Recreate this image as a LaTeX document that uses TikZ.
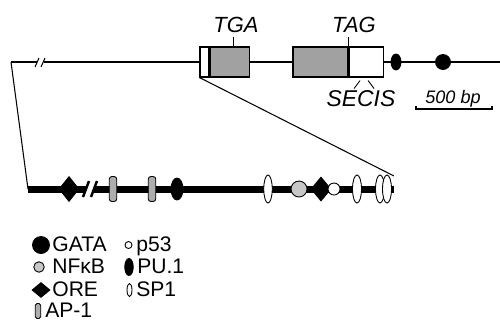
\documentclass[tikz,border=0pt]{standalone}
\usepackage{fontspec}
\setmainfont{Liberation Sans}
\usetikzlibrary{shapes.geometric}
\definecolor{boxgray}{gray}{0.63}
\definecolor{pillgray}{gray}{0.68}
\definecolor{nfgray}{gray}{0.78}

\begin{document}
\begin{tikzpicture}[x=0.02cm,y=-0.02cm,
  exon/.style={draw,line width=0.6pt,fill=boxgray,minimum height=0.6cm,inner sep=0},
  utr/.style={exon,fill=white},
  site/.style={draw,line width=0.5pt,inner sep=0},
  blob/.style={site,ellipse},
  gem/.style={site,diamond,fill=black},
  pill/.style={site,rectangle,rounded corners=1.5pt,fill=pillgray},
  tag/.style={font=\fontsize{12.5}{14}\selectfont\itshape,inner sep=0,anchor=base},
  key/.style={font=\fontsize{12}{13}\selectfont,inner sep=0,anchor=base west}]
\useasboundingbox (0,0) rectangle (500,326);

% gene
\coordinate (topL) at (11,62);
\coordinate (topR) at (500,62);
\coordinate (brkA) at (37,62);
\coordinate (brkB) at (44,62);
\node[utr,minimum width=0.18cm] (utr5) at (204.5,62) {};
\node[exon,minimum width=0.78cm,anchor=west] (ex1) at (utr5.east) {};
\node[exon,minimum width=1.1cm] (ex2) at (320.5,62) {};
\node[utr,minimum width=0.68cm,anchor=west] (utr3) at (ex2.east) {};
\draw[line width=0.85pt] (topL) -- (brkA) (brkB) -- (utr5.west);
\draw[line width=0.85pt] (ex1.east) -- (ex2.west);
\draw[line width=0.85pt] (utr3.east) -- (topR);
\draw[line width=0.6pt] (brkA) ++(-2,5) -- ++(4,-9);
\draw[line width=0.6pt] (brkB) ++(-3,5) -- ++(4,-9);
\node[blob,fill=black,minimum width=0.2cm,minimum height=0.32cm] (pu) at (396,62) {};
\node[site,circle,fill=black,minimum size=0.3cm] (gata) at (443,62) {};

% labels
\node[tag] (tga) at (236,32) {TGA};
\draw[line width=0.6pt] (ex1.north) ++(3.5,0) -- ++(0,-9);
\node[tag] (tag) at (354,32) {TAG};
\draw[line width=0.6pt] (ex2.north east) -- ++(0,-9);
\node[tag,font=\fontsize{13}{15}\selectfont\itshape] (secis) at (361,106) {SECIS};
\draw[line width=0.5pt] (utr3.south) ++(-6,3) -- ++(-6,8);
\draw[line width=0.5pt] (utr3.south) ++(2,3) -- ++(6,8);

% scale
\node[tag,font=\fontsize{10.3}{12}\selectfont\itshape] (bp) at (453,103) {500 bp};
\coordinate (sbL) at (416,109);
\coordinate (sbR) at (492,109);
\draw[line width=0.6pt] (sbL) ++(0,-3) -- (sbL) -- (sbR) -- ++(0,-3);

% promoter
\coordinate (lowL) at (28,189);
\coordinate (lowR) at (394,189);
\coordinate (brkC) at (86,189);
\coordinate (brkD) at (94,189);
\coordinate (zoomR) at (394,176);
\draw[line width=0.6pt] (topL) -- (lowL);
\draw[line width=0.6pt] (utr5.south west) -- (zoomR);
\draw[line width=0.14cm] (lowL) -- (brkC) (brkD) -- (lowR);
\draw[line width=0.05cm] (brkC) ++(-3,8) -- ++(6,-16);
\draw[line width=0.05cm] (brkD) ++(-3,8) -- ++(6,-16);

\node[gem,minimum width=0.4cm,minimum height=0.5cm] (ore1) at (69,189) {};
\node[pill,minimum width=0.15cm,minimum height=0.5cm] (ap1a) at (113,189) {};
\node[pill,minimum width=0.15cm,minimum height=0.5cm] (ap1b) at (152,189) {};
\node[blob,fill=black,minimum width=0.24cm,minimum height=0.44cm] (pu1) at (177,189) {};
\node[blob,fill=white,minimum width=0.17cm,minimum height=0.56cm] (sp1a) at (268,189) {};
\node[site,circle,fill=nfgray,minimum size=0.32cm] (nfkb) at (299,189) {};
\node[gem,minimum width=0.4cm,minimum height=0.48cm] (ore2) at (321,189) {};
\node[site,circle,fill=white,minimum size=0.24cm] (p53) at (334,189) {};
\node[blob,fill=white,minimum width=0.18cm,minimum height=0.56cm] (sp1b) at (357,189) {};
\node[blob,fill=white,minimum width=0.18cm,minimum height=0.56cm] (sp1c) at (380,189) {};
\node[blob,fill=white,minimum width=0.18cm,minimum height=0.56cm] (sp1d) at (387,189) {};

% legend
\node[site,circle,fill=black,minimum size=0.34cm] (kgata) at (41,245) {};
\node[key] (tgata) at (52,251) {GATA};
\node[site,circle,fill=nfgray,minimum size=0.21cm] (knfkb) at (39,267) {};
\node[key] (tnfkb) at (52,273) {NFκB};
\node[gem,minimum width=0.36cm,minimum height=0.3cm] (kore) at (41,290) {};
\node[key] (tore) at (52,296) {ORE};
\node[pill,rounded corners=1pt,minimum width=0.11cm,minimum height=0.3cm] (kap1) at (38,311) {};
\node[key] (tap1) at (45,317) {AP-1};
\node[site,circle,fill=white,minimum size=0.14cm] (kp53) at (128.5,245) {};
\node[key] (tp53) at (136,251) {p53};
\node[blob,fill=black,minimum width=0.17cm,minimum height=0.34cm] (kpu1) at (129,267) {};
\node[key] (tpu1) at (137,273) {PU.1};
\node[blob,fill=white,minimum width=0.1cm,minimum height=0.26cm] (ksp1) at (129.5,290) {};
\node[key] (tsp1) at (136,296) {SP1};
\end{tikzpicture}
\end{document}
